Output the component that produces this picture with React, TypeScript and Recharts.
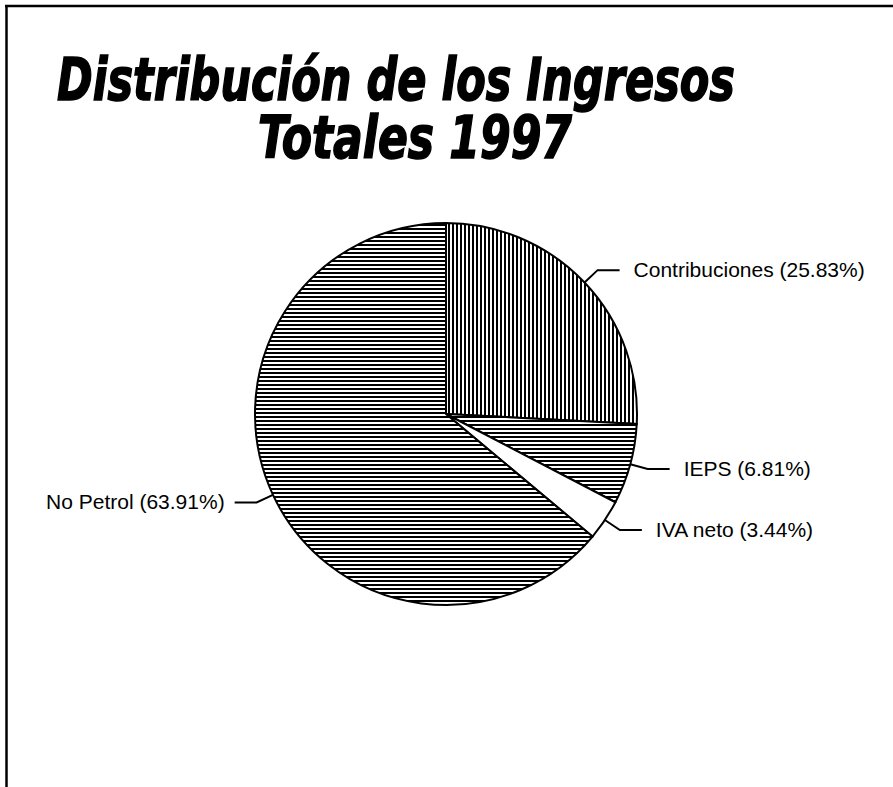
import React from 'react';
import { PieChart, Pie, Cell, Customized } from 'recharts';

const titleLines = ['Distribución de los Ingresos', 'Totales 1997'];
const categories = ['Contribuciones', 'IEPS', 'IVA neto', 'No Petrol'];
const shares = [25.83, 6.81, 3.44, 63.91];
const shareLabels = ['25.83%', '6.81%', '3.44%', '63.91%'];
const fills = ['url(#vlines)', 'url(#hlines2)', '#ffffff', 'url(#hlines)'];

const data = categories.map((name, i) => ({ name, value: shares[i], pct: shareLabels[i] }));

const RAD = Math.PI / 180;
const FONT = "'Liberation Sans', Arial, sans-serif";
const TITLE_FONT = "'Liberation Sans Narrow', 'DejaVu Sans Condensed', 'Liberation Sans', sans-serif";

const renderLabel = (props: any) => {
  const { cx, cy, midAngle, outerRadius, index } = props;
  const cos = Math.cos(-midAngle * RAD);
  const sin = Math.sin(-midAngle * RAD);
  const sx = cx + outerRadius * cos;
  const sy = cy + outerRadius * sin;
  const mx = cx + (outerRadius + 18) * cos;
  const my = cy + (outerRadius + 18) * sin;
  const right = cos >= 0;
  const ex = mx + (right ? 22 : -22);
  const tx = ex + (right ? 14 : -10);
  const d = data[index];
  return (
    <g key={'lbl' + index}>
      <path d={`M${sx},${sy}L${mx},${my}L${ex},${my}`} stroke="#000" strokeWidth={2} fill="none" />
      <text x={tx} y={my} dy={7} textAnchor={right ? 'start' : 'end'} fontSize={21} fontFamily={FONT} fill="#000">
        {`${d.name} (${d.pct})`}
      </text>
    </g>
  );
};

const Frame = () => (
  <g>
    <line x1={5} y1={6} x2={893} y2={6} stroke="#000" strokeWidth={2.5} />
    <line x1={6.5} y1={5} x2={6.5} y2={787} stroke="#000" strokeWidth={2.5} />
    <text x={57} y={100} textLength={678} lengthAdjust="spacingAndGlyphs" fontSize={58} fontStyle="italic" fontWeight={900}
      fontFamily={TITLE_FONT} fill="#000" stroke="#000" strokeWidth={1.5}>
      {titleLines[0]}
    </text>
    <text x={258} y={158} textLength={314} lengthAdjust="spacingAndGlyphs" fontSize={58} fontStyle="italic" fontWeight={900}
      fontFamily={TITLE_FONT} fill="#000" stroke="#000" strokeWidth={1.5}>
      {titleLines[1]}
    </text>
  </g>
);

export default function App() {
  return (
    <div style={{ position: 'absolute', left: 0, top: 0, background: '#fff' }}>
      <PieChart width={893} height={787} margin={{ top: 0, right: 0, bottom: 0, left: 0 }}>
        <defs>
          <pattern id="vlines" width="4" height="4" patternUnits="userSpaceOnUse">
            <rect width="4" height="4" fill="#fff" />
            <rect x="0" y="0" width="2" height="4" fill="#000" />
          </pattern>
          <pattern id="hlines" width="4" height="4" patternUnits="userSpaceOnUse">
            <rect width="4" height="4" fill="#fff" />
            <rect x="0" y="0" width="4" height="2" fill="#000" />
          </pattern>
          <pattern id="hlines2" width="4" height="4" patternUnits="userSpaceOnUse">
            <rect width="4" height="4" fill="#fff" />
            <rect x="0" y="0" width="4" height="2" fill="#000" />
          </pattern>
        </defs>
        <Customized component={Frame} />
        <Pie
          data={data}
          dataKey="value"
          nameKey="name"
          cx={446}
          cy={414}
          outerRadius={191}
          startAngle={90}
          endAngle={-270}
          stroke="#000"
          strokeWidth={2}
          isAnimationActive={false}
          label={renderLabel}
          labelLine={false}
        >
          {data.map((d, i) => (
            <Cell key={d.name} fill={fills[i]} />
          ))}
        </Pie>
      </PieChart>
    </div>
  );
}
